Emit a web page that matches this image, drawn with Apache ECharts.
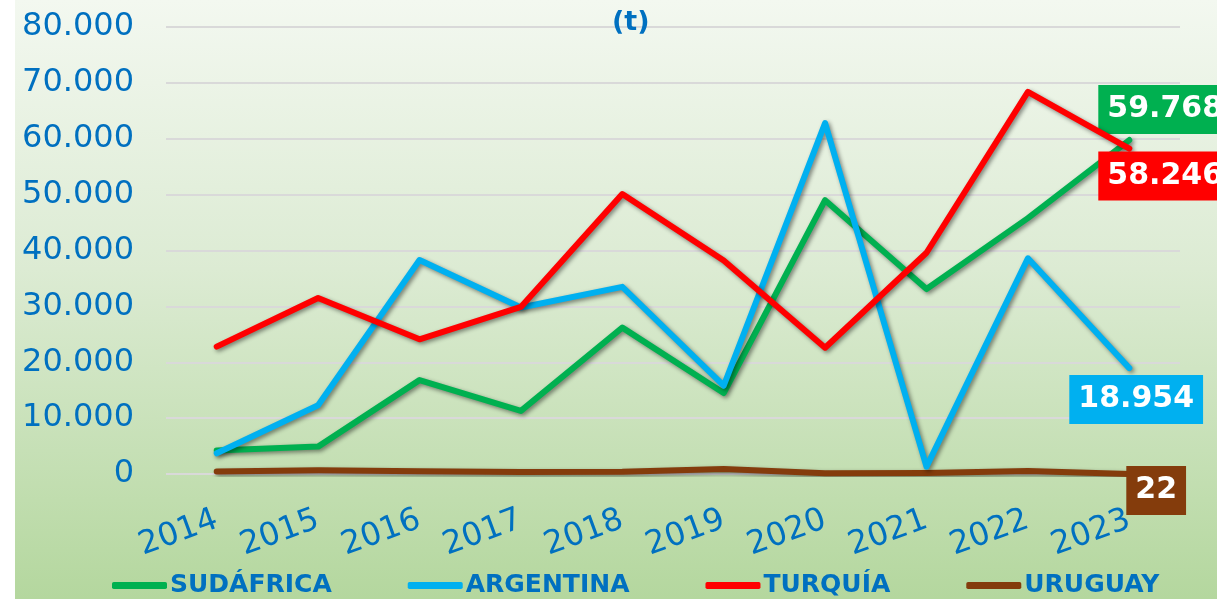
<!DOCTYPE html>
<html>
<head>
<meta charset="utf-8">
<script src="https://cdn.jsdelivr.net/npm/echarts@6/dist/echarts.min.js"></script>
<style>
    html, body { margin: 0; padding: 0; background: #ffffff; }
    #bg { position: absolute; left: 15px; top: 0; width: 1202px; height: 599px;
          background: linear-gradient(to bottom, #f3f8f0 0%, #dcebd3 45%, #b4d79e 100%); }
    #chart { position: absolute; left: 0; top: 0; width: 1217px; height: 599px; }
</style>
</head>
<body>
<div id="bg"></div>
<div id="chart"></div>
<script>
// años
const years = ['2014', '2015', '2016', '2017', '2018', '2019', '2020', '2021', '2022', '2023'];
const seriesNames = ['SUDÁFRICA', 'ARGENTINA', 'TURQUÍA', 'URUGUAY'];
// toneladas
const sudafrica = [4200, 4900, 16800, 11300, 26200, 14500, 49000, 33100, 45800, 59768];
const argentina = [3700, 12300, 38300, 29800, 33500, 15800, 62800, 1300, 38600, 18954];
const turquia = [22800, 31500, 24100, 29900, 50100, 38200, 22600, 39600, 68400, 58246];
const uruguay = [450, 650, 500, 350, 400, 900, 150, 180, 550, 22];
const yTicks = [0, 10000, 20000, 30000, 40000, 50000, 60000, 70000, 80000];

const blue = '#0070C0';
const font = '"DejaVu Sans", "Noto Sans", sans-serif';

function fmtMiles(v) {
    return String(v).replace(/\B(?=(\d{3})+(?!\d))/g, '.');
}

function makeSeries(name, data, color, offset, z) {
    return {
        name: name,
        type: 'line',
        data: data,
        z: z,
        showSymbol: false,
        symbol: 'none',
        silent: true,
        lineStyle: {
            width: 6,
            color: color,
            cap: 'round',
            join: 'round',
            shadowColor: 'rgba(0,0,0,0.45)',
            shadowBlur: 4,
            shadowOffsetX: 2,
            shadowOffsetY: 2
        },
        itemStyle: { color: color },
        endLabel: {
            show: true,
            distance: 0,
            align: 'left',
            verticalAlign: 'top',
            offset: offset,
            formatter: function (p) { return fmtMiles(p.value); },
            color: '#ffffff',
            backgroundColor: color,
            fontFamily: font,
            fontWeight: 'bold',
            fontSize: 30,
            lineHeight: 35,
            padding: [7, 9, 7, 9]
        }
    };
}

var myChart = echarts.init(document.getElementById('chart'), null, { renderer: 'canvas' });
var option = {
    animation: false,
    backgroundColor: 'transparent',
    title: {
        text: '(t)',
        left: 607,
        top: 4,
        textStyle: { color: blue, fontSize: 27, fontWeight: 'bold', fontFamily: font }
    },
    legend: {
        data: seriesNames,
        left: 107,
        bottom: -4,
        icon: 'roundRect',
        itemWidth: 55,
        itemHeight: 7,
        itemGap: 76,
        textStyle: { color: blue, fontSize: 25, fontWeight: 'bold', fontFamily: font, padding: [0, 0, 0, -2] }
    },
    grid: { left: 166, right: 37, top: 27, bottom: 125 },
    xAxis: {
        type: 'category',
        data: years,
        boundaryGap: true,
        axisLine: { show: false },
        axisTick: { show: false },
        axisLabel: {
            rotate: 20,
            margin: 45,
            interval: 0,
            color: blue,
            fontSize: 32,
            fontFamily: font
        }
    },
    yAxis: {
        type: 'value',
        min: yTicks[0],
        max: yTicks[yTicks.length - 1],
        interval: 10000,
        axisLine: { show: false },
        axisTick: { show: false },
        splitLine: { lineStyle: { color: '#d9d9d9', width: 2 } },
        axisLabel: {
            margin: 32,
            color: blue,
            fontSize: 32,
            fontFamily: font,
            padding: [4, 0, 0, 0],
            formatter: function (v) { return fmtMiles(v); }
        }
    },
    series: [
        makeSeries('URUGUAY', uruguay, '#843C0C', [-3, -8], 2),
        makeSeries('SUDÁFRICA', sudafrica, '#00B050', [-31, -55], 3),
        makeSeries('ARGENTINA', argentina, '#00B0F0', [-60, 7], 4),
        makeSeries('TURQUÍA', turquia, '#FF0000', [-31, 3], 5)
    ]
};
myChart.setOption(option);
</script>
</body>
</html>
